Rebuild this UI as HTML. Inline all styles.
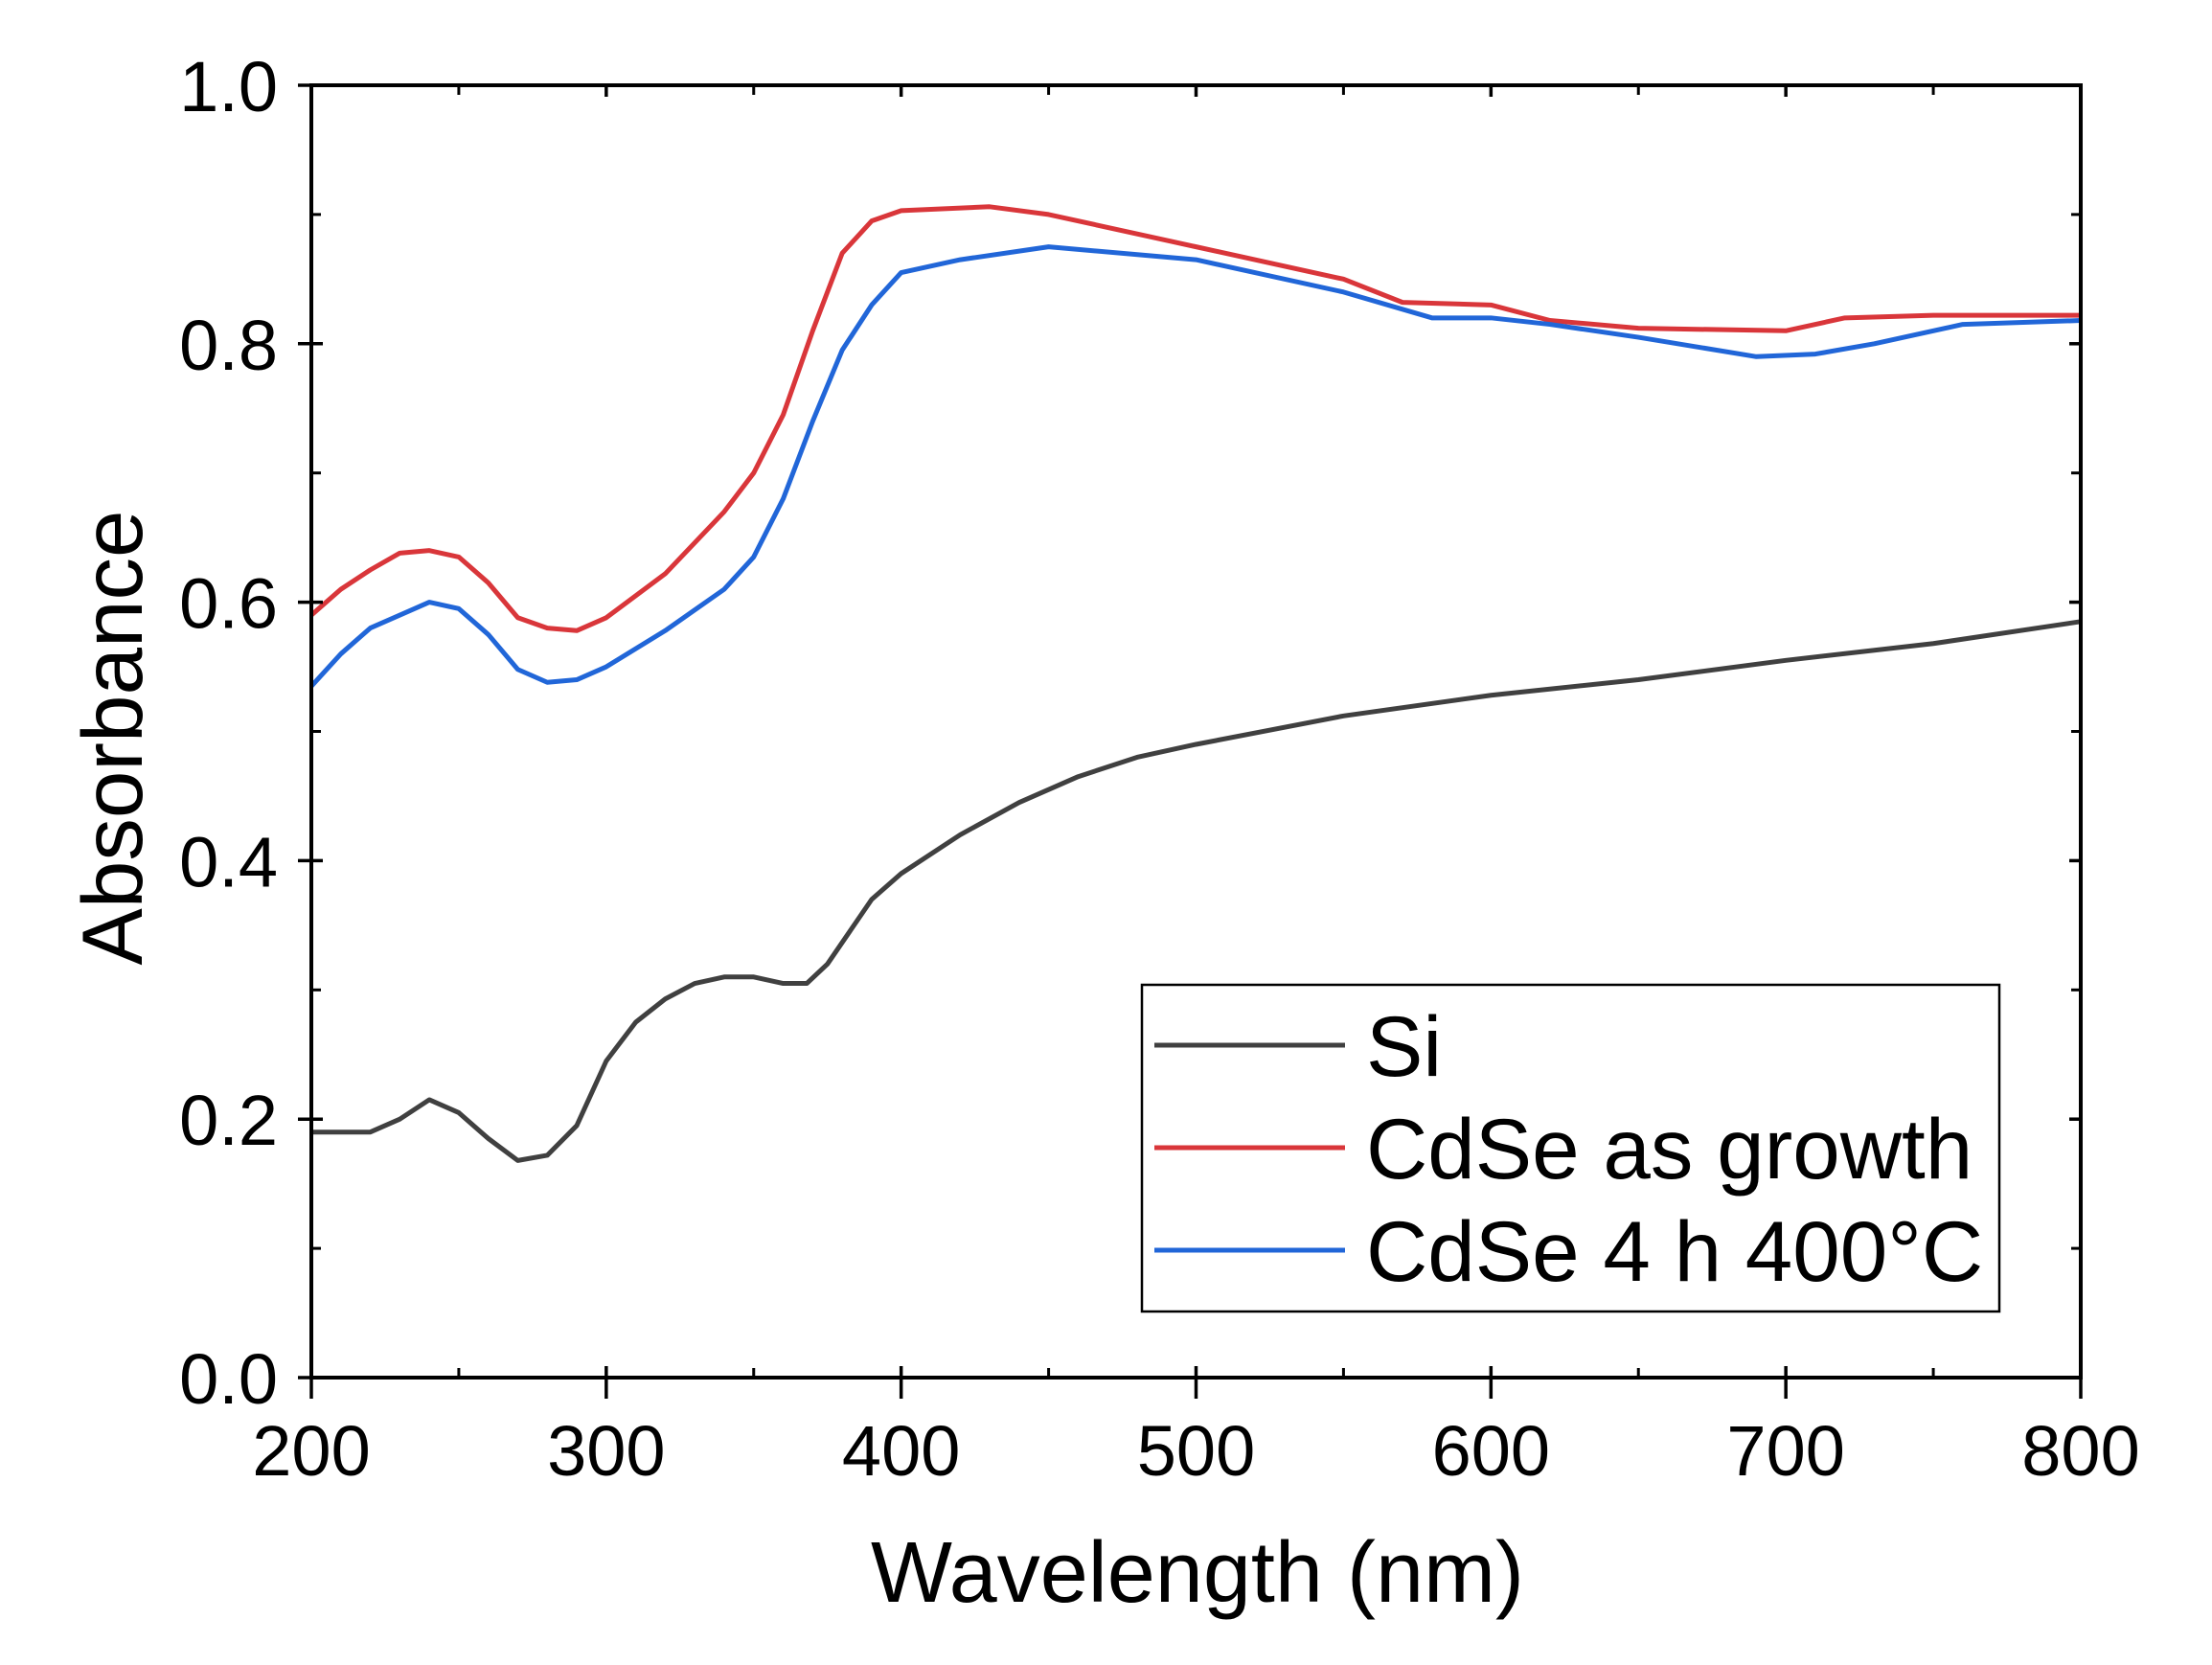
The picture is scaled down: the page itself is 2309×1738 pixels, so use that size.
<!DOCTYPE html>
<html><head><meta charset="utf-8"><style>
html,body{margin:0;padding:0;background:#fff;}
svg{display:block;font-family:"Liberation Sans",Arial,sans-serif;}
</style></head><body>
<svg id="chart" width="2309" height="1738" viewBox="0 0 2309 1738">
<g id="plot"></g>
</svg>
<script>
const siX=[200,220,230,240,250,260,270,280,290,300,310,320,330,340,350,360,368,375,390,400,420,440,460,480,500,550,600,650,700,750,800];
const siY=[0.19,0.19,0.20,0.215,0.205,0.185,0.168,0.172,0.195,0.245,0.275,0.293,0.305,0.31,0.31,0.305,0.305,0.32,0.37,0.39,0.42,0.445,0.465,0.48,0.49,0.512,0.528,0.54,0.555,0.568,0.585];
const redX=[200,210,220,230,240,250,260,270,280,290,300,320,340,350,360,370,380,390,400,430,450,500,550,570,600,620,650,700,720,750,800];
const redY=[0.59,0.61,0.625,0.638,0.64,0.635,0.615,0.588,0.58,0.578,0.588,0.622,0.67,0.70,0.745,0.81,0.87,0.895,0.903,0.906,0.9,0.875,0.85,0.832,0.83,0.818,0.812,0.81,0.82,0.822,0.822];
const blueX=[200,210,220,240,250,260,270,280,290,300,320,340,350,360,370,380,390,400,420,450,500,550,580,600,620,650,690,710,730,760,800];
const blueY=[0.535,0.56,0.58,0.6,0.595,0.575,0.548,0.538,0.54,0.55,0.578,0.61,0.635,0.68,0.74,0.795,0.83,0.855,0.865,0.875,0.865,0.84,0.82,0.82,0.815,0.805,0.79,0.792,0.8,0.815,0.818];
const xTicks=[200,300,400,500,600,700,800];
const yTicks=[0.0,0.2,0.4,0.6,0.8,1.0];
const L=325,R=2172,T=89,B=1438;
const sx=v=>L+(v-200)/600*(R-L);
const sy=v=>B-v*(B-T);
const NS="http://www.w3.org/2000/svg";
const g=document.getElementById('plot');
function mk(tag,attrs){const e=document.createElementNS(NS,tag);for(const k in attrs)e.setAttribute(k,attrs[k]);g.appendChild(e);return e;}
function line(x1,y1,x2,y2,w){return mk('line',{x1,y1,x2,y2,stroke:'#000','stroke-width':w});}
function series(xs,ys,color,name){
  const p=mk('polyline',{points:xs.map((x,i)=>sx(x)+','+sy(ys[i])).join(' '),fill:'none',stroke:color,'stroke-width':5,'stroke-linejoin':'round'});
  
  
}
series(siX,siY,'#404040','si-line');
series(redX,redY,'#d9363a','cdse-as-growth-line');
series(blueX,blueY,'#2166d8','cdse-400c-line');
const fr=mk('rect',{x:L,y:T,width:R-L,height:B-T,fill:'none',stroke:'#000','stroke-width':4});


for(let v=200;v<=800;v+=50){
  const x=sx(v);const major=v%100===0;
  if(major){line(x,B-12,x,B+22,3.5);line(x,T,x,T+12,3.5);}
  else{line(x,B,x,B-10,3);line(x,T,x,T+10,3);}
}
xTicks.forEach(v=>{
  const t=mk('text',{x:sx(v),y:1540,'font-size':74,'text-anchor':'middle',fill:'#000'});
  t.textContent=v;
  
  
});
for(let k=0;k<=10;k++){
  const v=k/10;const y=sy(v);const major=k%2===0;
  if(major){line(L-14,y,L+12,y,3.5);line(R-12,y,R,y,3.5);}
  else{line(L,y,L+10,y,3);line(R-10,y,R,y,3);}
}
yTicks.forEach(v=>{
  const t=mk('text',{x:290,y:sy(v)+27,'font-size':74,'text-anchor':'end',fill:'#000'});
  t.textContent=v.toFixed(1);
  
  
});
const xt=mk('text',{x:1250,y:1672,'font-size':90,'text-anchor':'middle',fill:'#000'});
xt.textContent='Wavelength (nm)';


const yt=mk('text',{x:0,y:0,'font-size':89,'text-anchor':'middle',fill:'#000',transform:'translate(148,770) rotate(-90)'});
yt.textContent='Absorbance';


const lb=mk('rect',{x:1192,y:1028,width:895,height:341,fill:'#fff',stroke:'#000','stroke-width':2.5});


const leg=[['Si','#404040',1091],['CdSe as growth','#d9363a',1198],['CdSe 4 h 400°C','#2166d8',1305]];
leg.forEach(([lab,c,y])=>{
  const l=mk('line',{x1:1205,y1:y,x2:1404,y2:y,stroke:c,'stroke-width':5});
  
  
  const t=mk('text',{x:1426,y:y+32,'font-size':89,fill:'#000'});
  t.textContent=lab;
  
  
});
</script>
</body></html>
